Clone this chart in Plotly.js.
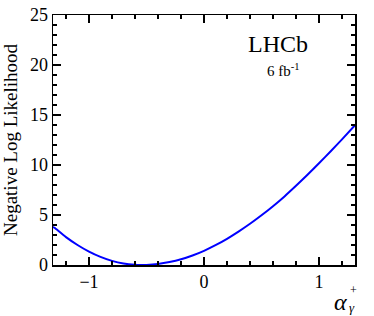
<!DOCTYPE html>
<html>
<head>
<meta charset="utf-8">
<script src="https://cdn.plot.ly/plotly-3.0.1.min.js"></script>
<style>html,body{margin:0;padding:0;background:#fff}#plot{width:374px;height:316px}</style>
</head>
<body>
<div id="plot"></div>
<script>
const alphaValues = [-1.313, -1.3, -1.2, -1.1, -1.0, -0.9, -0.8, -0.7, -0.6, -0.55, -0.5, -0.4, -0.3, -0.2, -0.1, 0.0, 0.1, 0.2, 0.3, 0.4, 0.5, 0.6, 0.7, 0.8, 0.9, 1.0, 1.1, 1.2, 1.313];
const nllValues   = [3.83, 3.72, 2.79, 2.00, 1.34, 0.81, 0.41, 0.15, 0.02, 0.0, 0.01, 0.11, 0.30, 0.57, 0.95, 1.42, 1.98, 2.62, 3.34, 4.12, 4.97, 5.88, 6.86, 7.92, 9.02, 10.17, 11.35, 12.56, 13.98];
const xTickVals = [-1, 0, 1];
const xTickText = ['\u22121', '0', '1'];
const yTickVals = [0, 5, 10, 15, 20, 25];

const serif = "'Times New Roman', 'Liberation Serif', serif";

const trace = {
  x: alphaValues, y: nllValues, type: 'scatter', mode: 'lines',
  line: {color: '#0000ff', width: 2, shape: 'spline', smoothing: 0.6},
  hoverinfo: 'skip'
};

const axisCommon = {
  showgrid: false, zeroline: false, showline: true, linecolor: '#000', linewidth: 1.5,
  mirror: 'allticks', ticks: 'inside', ticklen: 8, tickwidth: 1.2, tickcolor: '#000',
  tickfont: {family: serif, size: 18, color: '#000'}
};

const layout = {
  width: 374, height: 316,
  margin: {l: 53, r: 19, t: 15, b: 51},
  paper_bgcolor: '#fff', plot_bgcolor: '#fff',
  showlegend: false,
  font: {family: serif, color: '#000'},
  xaxis: Object.assign({}, axisCommon, {
    range: [-1.313, 1.313], tickvals: xTickVals, ticktext: xTickText,
    minor: {dtick: 0.2, tick0: 0, ticks: 'inside', ticklen: 4, tickwidth: 1.2, tickcolor: '#000', showgrid: false}
  }),
  yaxis: Object.assign({}, axisCommon, {
    range: [0, 25], tickvals: yTickVals,
    minor: {dtick: 1, tick0: 0, ticks: 'inside', ticklen: 4, tickwidth: 1.2, tickcolor: '#000', showgrid: false},
    title: {text: 'Negative Log Likelihood', font: {family: serif, size: 19, color: '#000'}, standoff: 8}
  }),
  annotations: [
    {xref: 'paper', yref: 'paper', x: 0.745, y: 0.885, xanchor: 'center', yanchor: 'middle', showarrow: false,
     text: 'LHCb', font: {family: serif, size: 24, color: '#000'}},
    {xref: 'paper', yref: 'paper', x: 0.762, y: 0.782, xanchor: 'center', yanchor: 'middle', showarrow: false,
     text: '6 fb<sup>-1</sup>', font: {family: serif, size: 15, color: '#000'}},
    {xref: 'paper', yref: 'paper', x: 0.98, y: -0.148, xanchor: 'right', yanchor: 'middle', showarrow: false,
     text: '<i>α</i>', font: {family: serif, size: 24, color: '#000'}},
    {xref: 'paper', yref: 'paper', x: 0.976, y: -0.10, xanchor: 'left', yanchor: 'middle', showarrow: false,
     text: '+', font: {family: serif, size: 12, color: '#000'}},
    {xref: 'paper', yref: 'paper', x: 0.974, y: -0.168, xanchor: 'left', yanchor: 'middle', showarrow: false,
     text: '<i>γ</i>', font: {family: serif, size: 13, color: '#000'}}
  ]
};

Plotly.newPlot('plot', [trace], layout, {staticPlot: true, displayModeBar: false});
</script>
</body>
</html>
